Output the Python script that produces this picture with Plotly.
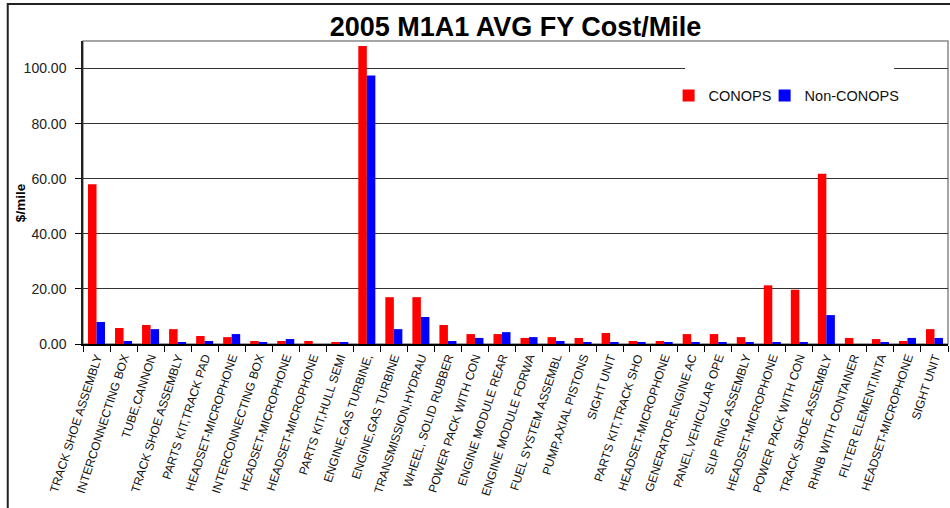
import plotly.graph_objects as go

categories = [
    "TRACK SHOE ASSEMBLY", "INTERCONNECTING BOX", "TUBE,CANNON", "TRACK SHOE ASSEMBLY",
    "PARTS KIT,TRACK PAD", "HEADSET-MICROPHONE", "INTERCONNECTING BOX", "HEADSET-MICROPHONE",
    "HEADSET-MICROPHONE", "PARTS KIT,HULL SEMI", "ENGINE,GAS TURBINE,", "ENGINE,GAS TURBINE",
    "TRANSMISSION,HYDRAU", "WHEEL, SOLID RUBBER", "POWER PACK WITH CON", "ENGINE MODULE REAR",
    "ENGINE MODULE FORWA", "FUEL SYSTEM ASSEMBL", "PUMP,AXIAL PISTONS", "SIGHT UNIT",
    "PARTS KIT,TRACK SHO", "HEADSET-MICROPHONE", "GENERATOR,ENGINE AC", "PANEL,VEHICULAR OPE",
    "SLIP RING ASSEMBLY", "HEADSET-MICROPHONE", "POWER PACK WITH CON", "TRACK SHOE ASSEMBLY",
    "RHNB WITH CONTAINER", "FILTER ELEMENT,INTA", "HEADSET-MICROPHONE", "SIGHT UNIT",
]

conops = [58.0, 5.8, 6.9, 5.4, 2.9, 2.5, 1.1, 1.1, 1.1, 0.7,
          108.2, 17.0, 17.0, 6.9, 3.6, 3.6, 2.2, 2.5, 2.2, 4.0,
          1.1, 1.1, 3.6, 3.6, 2.5, 21.3, 19.7, 61.8, 2.2, 1.8, 1.1, 5.4]

non_conops = [8.0, 1.1, 5.4, 0.4, 1.1, 3.6, 0.4, 1.8, 0.0, 0.7,
              97.5, 5.4, 9.8, 1.1, 2.2, 4.3, 2.5, 1.1, 0.7, 0.7,
              0.4, 0.7, 0.7, 0.7, 0.7, 0.4, 0.4, 10.5, 0.0, 0.4, 2.2, 2.2]

y_ticks = [0, 20, 40, 60, 80, 100]
y_tick_labels = ["0.00", "20.00", "40.00", "60.00", "80.00", "100.00"]

# unique category keys so that repeated names stay separate
keys = [str(i) for i in range(len(categories))]

FONT = "Liberation Sans, Arial, sans-serif"

fig = go.Figure()
fig.add_trace(go.Bar(x=keys, y=conops, name="CONOPS", legend="legend",
                     marker=dict(color="#FF0000", line_width=0)))
fig.add_trace(go.Bar(x=keys, y=non_conops, name="Non-CONOPS", legend="legend2",
                     marker=dict(color="#0000FF", line_width=0)))

legend_style = dict(orientation="h", xanchor="left", y=0.82, yanchor="middle",
                    bgcolor="rgba(0,0,0,0)", borderwidth=0,
                    font=dict(size=14.5, color="#111"), itemclick=False)

fig.update_layout(
    width=950, height=508,
    margin=dict(l=83, r=2, t=41, b=164, autoexpand=False),
    paper_bgcolor="white", plot_bgcolor="white",
    barmode="group", bargap=0.37, bargroupgap=0,
    font=dict(family=FONT, color="#111"),
    title=dict(text="<b>2005 M1A1 AVG FY Cost/Mile</b>", x=0.5, xref="paper", xanchor="center",
               y=0.948, yanchor="middle", automargin=False,
               font=dict(size=27, color="#000", family=FONT)),
    showlegend=True,
    legend=dict(x=0.677, **legend_style),
    legend2=dict(x=0.788, **legend_style),
    xaxis=dict(type="category", tickmode="array", tickvals=keys, ticktext=categories,
               tickson="boundaries", ticks="outside", ticklen=6, tickcolor="#000",
               tickangle=-72, tickfont=dict(size=12, color="#111"), automargin=False,
               showline=True, linecolor="#000", linewidth=1.5, showgrid=False,
               range=[-0.5, len(categories) - 0.5]),
    yaxis=dict(range=[0, 110], tickmode="array", tickvals=y_ticks, ticktext=y_tick_labels,
               ticks="outside", ticklen=6, tickcolor="#000", ticklabelstandoff=6,
               tickfont=dict(size=14, color="#222"), automargin=False,
               showline=True, linecolor="#222", linewidth=1.5,
               showgrid=True, gridcolor="#333", gridwidth=1.2, zeroline=False),
    annotations=[
        dict(text="<b>$/mile</b>", xref="paper", yref="paper", x=-0.0728, y=0.465,
             xanchor="center", yanchor="middle", textangle=-90, showarrow=False,
             font=dict(size=13.5, color="#000")),
    ],
    shapes=[
        # plot-area frame
        dict(type="rect", xref="paper", yref="paper", x0=0, x1=1, y0=0, y1=1,
             line=dict(color="#888", width=1.5), layer="below"),
        # chart outer frame
        dict(type="rect", xref="paper", yref="paper", x0=-0.087, x1=1.2, y0=-1.0, y1=1.122,
             line=dict(color="#222", width=2), layer="below"),
        # white legend box
        dict(type="rect", xref="paper", yref="paper", x0=0.696, x1=0.9376, y0=0.739, y1=0.93,
             line=dict(width=0), fillcolor="white", layer="above"),
    ],
)

fig.write_html("out.html", config={"displayModeBar": False},
               post_script="document.body.style.margin='0';")
